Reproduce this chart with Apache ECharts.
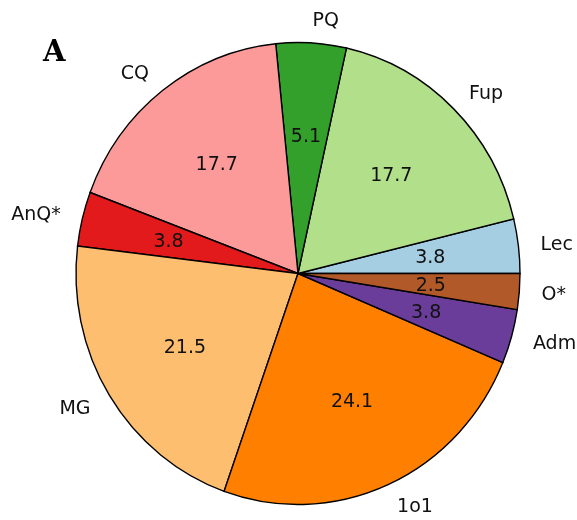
<!DOCTYPE html>
<html>
<head>
<meta charset="utf-8">
<script src="https://cdn.jsdelivr.net/npm/echarts@6/dist/echarts.min.js"></script>
<style>html,body{margin:0;padding:0;background:#fff;}#c{width:577px;height:520px;}</style>
</head>
<body>
<div id="c"></div>
<script>
// ---- data ----
const labels = ['Lec', 'Fup', 'PQ', 'CQ', 'AnQ*', 'MG', '1o1', 'Adm', 'O*'];
const values = [3.8, 17.7, 5.1, 17.7, 3.8, 21.5, 24.1, 3.8, 2.5];
const colors = ['#a6cee3', '#b2df8a', '#33a02c', '#fb9a99', '#e31a1c', '#fdbf6f', '#ff7f00', '#6a3d9a', '#b15928'];
const panelLabel = 'A';

// ---- layout constants ----
const CX = 298, CY = 273.5, RX = 222, RY = 231;
const KY = RY / RX;
const LABEL_DIST = 1.1, PCT_DIST = 0.6;
const TEXT_DY = 1.5;
const FONT = '19px "DejaVu Sans"';

// build cumulative ranges
const total = values.reduce((a, b) => a + b, 0);
const seriesData = [];
let acc = 0;
values.forEach((v, i) => {
  seriesData.push({ name: labels[i], value: [acc, acc + v, i] });
  acc += v;
});

const chart = echarts.init(document.getElementById('c'), null, { renderer: 'canvas' });
chart.setOption({
  animation: false,
  backgroundColor: '#ffffff',
  title: {
    text: panelLabel,
    left: 43,
    top: 39,
    padding: 0,
    textStyle: { fontFamily: 'DejaVu Serif', fontWeight: 'bold', fontSize: 29, color: '#000' }
  },
  polar: { center: [CX, CY], radius: RX },
  angleAxis: { type: 'value', min: 0, max: total, startAngle: 0, clockwise: false, show: false },
  radiusAxis: { type: 'value', min: 0, max: 1, show: false },
  series: [{
    type: 'custom',
    coordinateSystem: 'polar',
    clip: false,
    data: seriesData,
    renderItem: function (params, api) {
      const cs = params.coordSys;
      const cx = cs.cx, cy = cs.cy, r = cs.r;
      const s = api.value(0), e = api.value(1), i = api.value(2);
      const ang = function (v) {
        const p = api.coord([1, v]);
        return Math.atan2(p[1] - cy, p[0] - cx);
      };
      let a0 = ang(s), a1 = ang(e);
      while (a1 > a0) a1 -= 2 * Math.PI;
      const mid = (s + e) / 2;
      const po = api.coord([LABEL_DIST, mid]);
      const xo = po[0], yo = cy + (po[1] - cy) * KY + TEXT_DY;
      const pi = api.coord([PCT_DIST, mid]);
      const xi = pi[0], yi = cy + (pi[1] - cy) * KY + TEXT_DY;
      return {
        type: 'group',
        children: [
          {
            type: 'sector',
            shape: { cx: cx, cy: cy, r: r, r0: 0, startAngle: a0, endAngle: a1, clockwise: false },
            originX: cx, originY: cy, scaleY: KY,
            style: { fill: colors[i], stroke: '#000', lineWidth: 1.4, strokeNoScale: true }
          },
          {
            type: 'text', x: xo, y: yo, z2: 10,
            style: { text: labels[i], fill: '#111', font: FONT, align: xo > cx ? 'left' : 'right', verticalAlign: 'middle' }
          },
          {
            type: 'text', x: xi, y: yi, z2: 10,
            style: { text: values[i].toFixed(1), fill: '#111', font: FONT, align: 'center', verticalAlign: 'middle' }
          }
        ]
      };
    }
  }]
});
</script>
</body>
</html>
